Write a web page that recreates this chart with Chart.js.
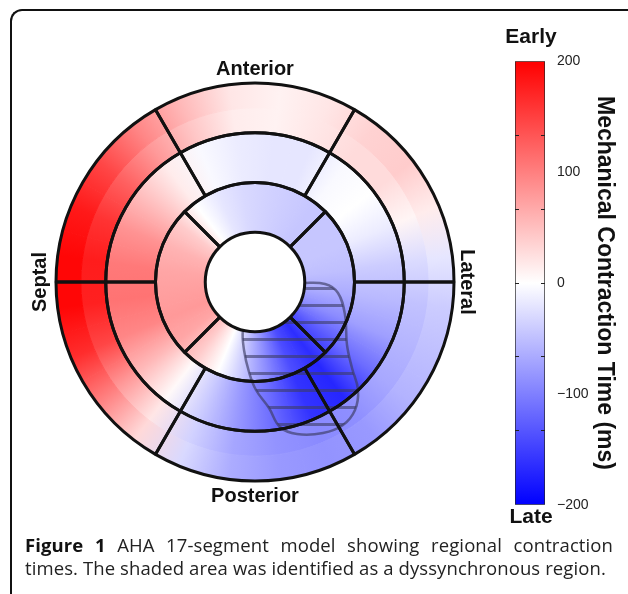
<!DOCTYPE html>
<html>
<head>
<meta charset="utf-8">
<script src="https://cdn.jsdelivr.net/npm/chart.js@4.4.1/dist/chart.umd.min.js"></script>
<style>
  html, body { margin: 0; padding: 0; background: #fff; }
  #page { position: relative; width: 628px; height: 594px; overflow: hidden; }
  #frame { position: absolute; left: 10px; top: 9px; width: 640px; height: 584px;
           border-left: 2px solid #111; border-top: 2px solid #111; border-top-left-radius: 12px; }
  canvas { position: absolute; }
  #base { left: 25px; top: 57px; }
  #hatch { left: 55px; top: 82px; }
  #rings { left: 29px; top: 56px; }
  #scale { left: 437px; top: 16px; }
  #caption { position: absolute; left: 25px; top: 533px; width: 588px;
             font-family: 'Open Sans', sans-serif; font-size: 18.5px; letter-spacing: 0.1px; line-height: 23px; color: #222; }
  #caption .l1 { text-align: justify; text-align-last: justify; }
  #caption b { color: #111; }
</style>
</head>
<body>
<div id="page">
  <div id="frame"></div>
  <canvas id="base" width="460" height="450"></canvas>
  <canvas id="hatch" width="400" height="400"></canvas>
  <canvas id="rings" width="452" height="452"></canvas>
  <canvas id="scale" width="188" height="520"></canvas>
  <div id="caption">
    <div class="l1"><b>Figure 1</b> AHA 17-segment model showing regional contraction</div>
    <div>times. The shaded area was identified as a dyssynchronous region.</div>
  </div>
</div>
<script>
// contraction time (ms) per 15 degree sector, clockwise from 12 o'clock (anterior)
const basalOuterTimes = [10, 20, 35, 40, 15, -20, -40, -50, -60, -80, -85, -80, -65, -30, 30, 100, 165, 195, 195, 180, 145, 95, 55, 20];
const basalInnerTimes = [10, 20, 28, 28, 8, -28, -48, -58, -68, -88, -92, -85, -70, -35, 20, 80, 145, 175, 178, 160, 125, 80, 45, 15];
const midTimes    = [-20, -20, -5, 0, -15, -40, -55, -75, -115, -170, -160, -115, -80, -40, 5, 55, 95, 110, 105, 85, 50, 15, -5, -15];
const apicalTimes = [-35, -40, -45, -45, -45, -50, -65, -90, -130, -165, -140, -90, -45, 0, 40, 70, 80, 75, 70, 60, 40, 0, -20, -30];

// AHA segments (degrees) per ring
const basalSegments  = [60, 60, 60, 60, 60, 60];
const midSegments    = [60, 60, 60, 60, 60, 60];
const apicalSegments = [90, 90, 90, 90];

// dyssynchronous region outline, px from bullseye centre (y up)
const blobX = [45, 70, 83, 90, 92, 97, 103, 100, 88, 68, 42, 25, 14, 1, -6, -11, -12, -5, 15, 45];
const blobY = [-1, -2, -11, -33, -63, -86, -108, -128, -143, -151, -152, -145, -126, -108, -90, -68, -48, -23, -6, -1];

// colour bar
const scaleMin = -200, scaleMax = 200;
const scaleStops  = [-200, 0, 200];
const scaleTicks  = [-200, -100, 0, 100, 200];
const scaleLabels = ['\u2212200', '\u2212100', '0', '100', '200'];
const scaleMarks  = [-133.3, -66.7, 0, 66.7, 133.3];

Chart.defaults.font.family = "'Liberation Sans', Arial, sans-serif";
const labelFont = { size: 20, weight: 'bold' };

function timeColor(v) {
  const t = Math.max(-1, Math.min(1, v / 200));
  const k = Math.round(255 * (1 - Math.abs(t)));
  return t >= 0 ? `rgb(255,${k},${k})` : `rgb(${k},${k},255)`;
}

// conic gradient whose stops sit at the sector centres
function ringGradient(chart, times) {
  const a = chart.chartArea;
  const cx = (a.left + a.right) / 2, cy = (a.top + a.bottom) / 2;
  const step = 360 / times.length;
  const g = chart.ctx.createConicGradient((step / 2 - 90) * Math.PI / 180, cx, cy);
  times.forEach((v, i) => g.addColorStop(i / times.length, timeColor(v)));
  g.addColorStop(1, timeColor(times[0]));
  return g;
}

function ring(times, weight) {
  const fill = ctx => ctx.chart.chartArea ? ringGradient(ctx.chart, times) : timeColor(0);
  return { data: times.map(() => 360 / times.length), weight, backgroundColor: fill, borderColor: fill, borderWidth: 1 };
}

function hatchPattern() {
  const c = document.createElement('canvas');
  c.width = 8; c.height = 17;
  const g = c.getContext('2d');
  g.fillStyle = 'rgba(60,60,100,0.6)';
  g.fillRect(0, 1, 8, 3);
  return g.createPattern(c, 'repeat');
}

const quiet = { animation: false, responsive: false, events: [] };

// coloured field
new Chart(document.getElementById('base'), {
  type: 'doughnut',
  data: {
    datasets: [ring(basalOuterTimes, 1), ring(basalInnerTimes, 1), ring(midTimes, 2), ring(apicalTimes, 2),
      { data: [1], weight: 2, backgroundColor: '#fff', borderWidth: 0 }]
  },
  options: {
    ...quiet, radius: 199, cutout: 0,
    plugins: {
      legend: { display: false }, tooltip: { enabled: false },
      title: { display: true, text: 'Septal', position: 'left', font: labelFont, color: '#111', padding: { top: 3, bottom: 6 } },
      subtitle: { display: true, text: 'Lateral', position: 'right', font: labelFont, color: '#111', padding: { top: 6, bottom: 3 } }
    }
  }
});

// hatched region
new Chart(document.getElementById('hatch'), {
  type: 'scatter',
  data: {
    datasets: [{
      data: blobX.map((x, i) => ({ x, y: blobY[i] })),
      showLine: true, fill: 'shape', tension: 0.4,
      backgroundColor: hatchPattern(), borderColor: 'rgba(60,60,100,0.65)', borderWidth: 2.5, pointRadius: 0
    }]
  },
  options: {
    ...quiet,
    layout: { autoPadding: false, padding: 0 },
    plugins: { legend: { display: false }, tooltip: { enabled: false } },
    scales: {
      x: { type: 'linear', min: -200, max: 200, display: false },
      y: { type: 'linear', min: -200, max: 200, display: false }
    }
  }
});

// segment borders
const seg = (data, rotation) => ({ data, rotation, backgroundColor: 'rgba(0,0,0,0)', borderColor: '#111', borderWidth: 3 });
new Chart(document.getElementById('rings'), {
  type: 'doughnut',
  data: {
    datasets: [seg(basalSegments, 30), seg(midSegments, 30), seg(apicalSegments, 45),
      { data: [1], backgroundColor: '#fff', borderWidth: 0 }]
  },
  options: {
    ...quiet, radius: 199, cutout: 0,
    plugins: {
      legend: { display: false }, tooltip: { enabled: false },
      title: { display: true, text: 'Anterior', font: labelFont, color: '#111', padding: { top: 1, bottom: 4 } },
      subtitle: { display: true, text: 'Posterior', position: 'bottom', font: labelFont, color: '#111', padding: { top: 5, bottom: 0 } }
    }
  }
});

// colour bar
function barGradient(chart) {
  const area = chart.chartArea;
  if (!area) return timeColor(0);
  const y = chart.scales.y;
  const g = chart.ctx.createLinearGradient(0, y.getPixelForValue(scaleMin), 0, y.getPixelForValue(scaleMax));
  scaleStops.forEach(v => g.addColorStop((v - scaleMin) / (scaleMax - scaleMin), timeColor(v)));
  return g;
}

new Chart(document.getElementById('scale'), {
  type: 'bar',
  data: {
    labels: [''],
    datasets: [{
      data: [[scaleMin, scaleMax]],
      backgroundColor: ctx => barGradient(ctx.chart),
      borderColor: '#222', borderWidth: 1, borderSkipped: false,
      barPercentage: 1, categoryPercentage: 1
    }]
  },
  options: {
    ...quiet,
    plugins: {
      legend: { display: false }, tooltip: { enabled: false },
      title: { display: true, text: 'Early', font: { size: 21, weight: 'bold' }, color: '#111', padding: { top: 9, bottom: 11 } },
      subtitle: { display: true, text: 'Late', position: 'bottom', font: { size: 21, weight: 'bold' }, color: '#111', padding: { top: 0, bottom: 6 } }
    },
    scales: {
      x: { display: false },
      y: {
        position: 'right', min: scaleMin, max: scaleMax,
        afterBuildTicks: a => { a.ticks = scaleTicks.map(v => ({ value: v })); },
        afterFit: a => { a.width = 80; },
        grid: { display: false }, border: { display: false },
        ticks: { padding: 4, font: { size: 14 }, color: '#222', callback: (v, i) => scaleLabels[i] },
        title: { display: true, text: 'Mechanical Contraction Time (ms)', font: { size: 23, weight: 'bold' }, color: '#111', padding: { top: 7, bottom: 0 } }
      },
      marks: {
        type: 'linear', axis: 'y', position: 'left', min: scaleMin, max: scaleMax,
        afterBuildTicks: a => { a.ticks = scaleMarks.map(v => ({ value: v })); },
        afterFit: a => { a.width = 78; },
        ticks: { display: false },
        grid: { drawTicks: false, color: '#222', lineWidth: 1, z: 1 },
        border: { display: false, dash: [4, 22] }
      }
    }
  }
});
</script>
</body>
</html>
